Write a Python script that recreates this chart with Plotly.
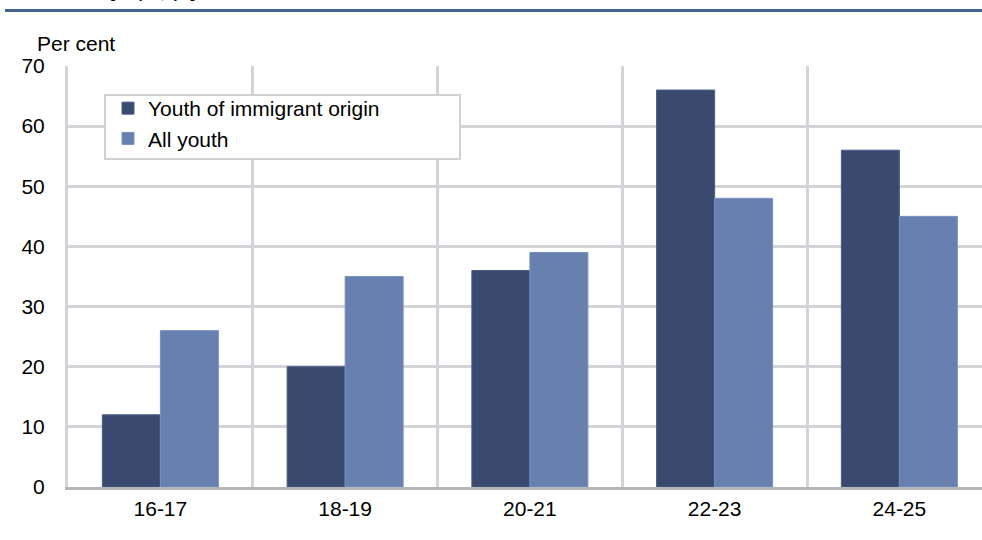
import plotly.graph_objects as go

# Age groups and shares (per cent)
age_groups = ["16-17", "18-19", "20-21", "22-23", "24-25"]
immigrant_origin = [12, 20, 36, 66, 56]
all_youth = [26, 35, 39, 48, 45]

series_names = ["Youth of immigrant origin", "All youth"]
title_text = "Share in work during the year, by age"
y_unit = "Per cent"

DARK = "#3A4A6E"
LIGHT = "#6880B0"
GRID = "#D3D4D8"
FONT = "Liberation Sans, Arial, sans-serif"

W, H = 982, 540
L, R, T, B = 68, 0, 66, 53
plot_w = W - L - R
plot_h = H - T - B


def px_x(x):
    return (x - L) / plot_w


def px_y(y):
    return (H - B - y) / plot_h


fig = go.Figure()
fig.add_trace(go.Bar(
    x=age_groups, y=immigrant_origin, name=series_names[0],
    marker=dict(color=DARK, line=dict(color="#4A5C86", width=1)),
))
fig.add_trace(go.Bar(
    x=age_groups, y=all_youth, name=series_names[1],
    marker=dict(color=LIGHT, line=dict(color="#7890C0", width=1)),
))

# category width in pixels: the last group runs past the right edge
cat_px = 184.75
x_hi = -0.5 + plot_w / cat_px

fig.update_layout(
    width=W, height=H,
    margin=dict(l=L, r=R, t=T, b=B, pad=0),
    paper_bgcolor="white", plot_bgcolor="white",
    font=dict(family=FONT, size=21, color="#000000"),
    barmode="group", bargap=0.372, bargroupgap=0,
    showlegend=True,
    legend=dict(
        x=px_x(108), y=px_y(88), xanchor="left", yanchor="top",
        bgcolor="rgba(0,0,0,0)", borderwidth=0,
        font=dict(family=FONT, size=21, color="#000000"),
        traceorder="normal", tracegroupgap=0,
    ),
    xaxis=dict(
        type="category", range=[-0.5, x_hi],
        tickson="boundaries", showgrid=True, gridcolor=GRID, gridwidth=3,
        ticks="", showline=True, linecolor="#B5B6BA", linewidth=3,
        ticklabelstandoff=1, zeroline=False, fixedrange=True,
    ),
    yaxis=dict(
        range=[0, 70], dtick=10, tick0=0,
        showgrid=True, gridcolor=GRID, gridwidth=3,
        showline=True, linecolor=GRID, linewidth=3,
        ticks="", ticklabelstandoff=16, zeroline=False, fixedrange=True,
    ),
    annotations=[
        dict(text=y_unit, xref="paper", yref="paper",
             x=px_x(35), y=px_y(43), xanchor="left", yanchor="middle",
             showarrow=False, font=dict(family=FONT, size=21)),
        dict(text="<b>" + title_text + "</b>", xref="paper", yref="paper",
             x=px_x(5), y=px_y(3), xanchor="left", yanchor="bottom",
             showarrow=False, font=dict(family=FONT, size=11)),
    ],
    shapes=[
        dict(type="line", xref="paper", yref="paper",
             x0=px_x(5), x1=1.0, y0=px_y(10.5), y1=px_y(10.5),
             line=dict(color="#46648C", width=3)),
        dict(type="rect", xref="paper", yref="paper", layer="above",
             x0=px_x(105), x1=px_x(460), y0=px_y(95), y1=px_y(159),
             fillcolor="white", line=dict(color="#D0D1D5", width=2)),
    ],
)

fig.write_html("out.html")
